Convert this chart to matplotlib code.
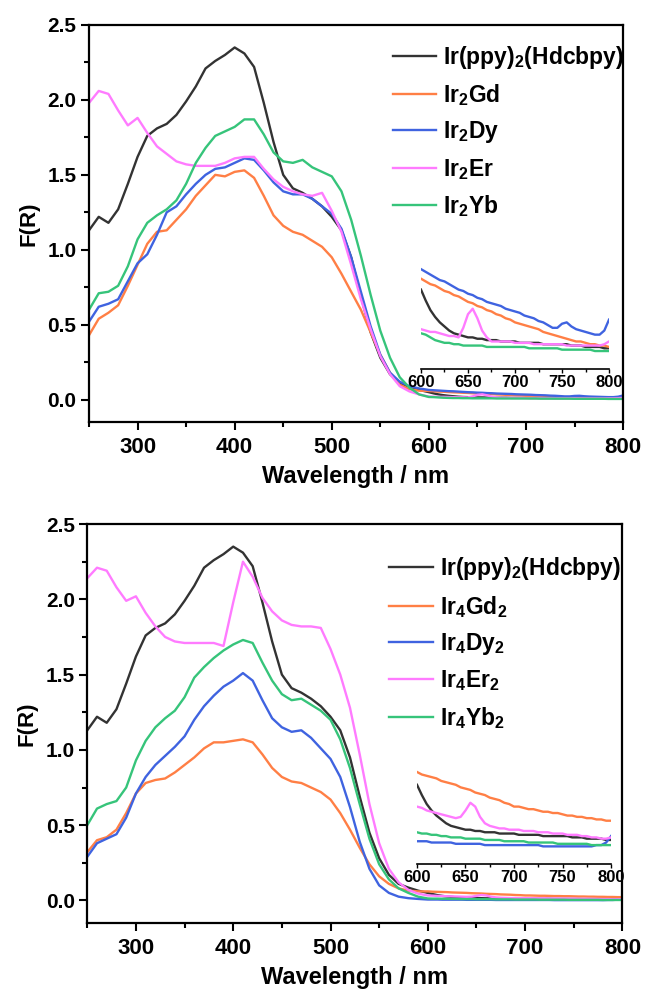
import numpy as np
import matplotlib
matplotlib.use('Agg')
import matplotlib.pyplot as plt
from matplotlib.ticker import MultipleLocator

plt.rcParams['font.family'] = ['Liberation Sans', 'DejaVu Sans']
plt.rcParams['font.weight'] = 'bold'
plt.rcParams['mathtext.fontset'] = 'custom'
plt.rcParams['mathtext.rm'] = 'Liberation Sans:bold'
plt.rcParams['mathtext.bf'] = 'Liberation Sans:bold'
plt.rcParams['mathtext.it'] = 'Liberation Sans:bold'

# wavelength grids (nm): 10 nm steps up to 590, 5 nm steps in the tail
wl_main = np.arange(250, 600, 10)
wl_tail = np.arange(600, 805, 5)

# Ir(ppy)2(Hdcbpy) - same sample in both panels
ir_main = [1.13, 1.22, 1.18, 1.27, 1.44, 1.62, 1.76, 1.81, 1.84, 1.90, 1.99, 2.09, 2.21, 2.26, 2.30,
           2.35, 2.31, 2.22, 1.98, 1.72, 1.50, 1.41, 1.38, 1.34, 1.29, 1.22, 1.13, 0.95, 0.69, 0.45,
           0.28, 0.17, 0.11, 0.085, 0.065]
ir_tail = [.050, .042, .035, .030, .026, .023, .020, .018, .017, .016, .015, .015, .014, .014, .013,
           .013, .013, .012, .012, .012, .012, .011, .011, .011, .011, .011, .010, .010, .010, .010,
           .010, .010, .009, .009, .009, .008, .008, .008, .008, .007, .007]

# top panel: Ir2Ln
gd_main = [.43, .54, .58, .63, .76, .90, 1.04, 1.12, 1.13, 1.20, 1.27, 1.36, 1.43, 1.50, 1.49,
           1.52, 1.53, 1.48, 1.36, 1.23, 1.16, 1.12, 1.10, 1.06, 1.02, 0.95, 0.84, 0.72, 0.60, 0.45,
           0.30, 0.18, 0.10, 0.07, 0.06]
gd_tail = [.058, .056, .054, .053, .051, .049, .048, .046, .045, .043, .041, .040, .038, .037, .035,
           .034, .032, .031, .029, .028, .026, .025, .024, .023, .022, .021, .019, .018, .017, .016,
           .015, .014, .013, .012, .012, .011, .010, .010, .009, .009, .008]
dy_main = [.52, .62, .64, .67, .79, .91, .97, 1.10, 1.25, 1.29, 1.37, 1.44, 1.50, 1.54, 1.55,
           1.58, 1.61, 1.60, 1.53, 1.45, 1.39, 1.37, 1.37, 1.34, 1.29, 1.24, 1.14, 0.95, 0.72, 0.49,
           0.30, 0.18, 0.12, 0.09, 0.075]
dy_tail = [.065, .063, .061, .059, .057, .056, .054, .052, .050, .049, .047, .046, .044, .043, .041,
           .040, .039, .038, .036, .035, .034, .033, .031, .030, .029, .027, .026, .024, .022, .022,
           .025, .026, .023, .021, .020, .019, .018, .017, .017, .020, .028]
er_main = [1.98, 2.06, 2.04, 1.93, 1.83, 1.88, 1.78, 1.69, 1.64, 1.59, 1.57, 1.56, 1.56, 1.56, 1.58,
           1.61, 1.62, 1.62, 1.54, 1.47, 1.42, 1.39, 1.37, 1.36, 1.38, 1.26, 1.12, 0.90, 0.67, 0.47,
           0.29, 0.17, 0.09, 0.055, 0.035]
er_tail = [.021, .020, .019, .019, .018, .017, .016, .016, .015, .022, .032, .036, .029, .020, .015,
           .012, .012, .012, .012, .012, .011, .011, .011, .011, .010, .010, .010, .010, .010, .010,
           .010, .009, .009, .009, .009, .009, .009, .009, .009, .010, .012]
yb_main = [.60, .71, .72, .76, .89, 1.07, 1.18, 1.23, 1.27, 1.33, 1.44, 1.58, 1.68, 1.76, 1.79,
           1.82, 1.87, 1.87, 1.77, 1.65, 1.59, 1.58, 1.60, 1.55, 1.52, 1.49, 1.39, 1.20, 0.96, 0.70,
           0.46, 0.28, 0.15, 0.08, 0.035]
yb_tail = [.018, .017, .015, .013, .012, .011, .011, .010, .010, .009, .009, .009, .009, .009, .008,
           .008, .008, .008, .008, .008, .008, .008, .008, .007, .007, .007, .007, .007, .007, .007,
           .006, .006, .006, .006, .006, .006, .006, .005, .005, .005, .005]

# bottom panel: Ir4Ln2
gd2_main = [.32, .40, .42, .47, .58, .71, .78, .80, .81, .85, .90, .95, 1.01, 1.05, 1.05,
            1.06, 1.07, 1.05, 0.97, 0.88, 0.82, 0.79, 0.78, 0.75, 0.72, 0.67, 0.58, 0.47, 0.35, 0.24,
            0.16, 0.11, 0.08, 0.065, 0.06]
gd2_tail = [.060, .058, .057, .056, .055, .053, .052, .051, .050, .048, .047, .046, .044, .043, .042,
            .040, .039, .038, .036, .035, .033, .033, .032, .031, .031, .030, .029, .029, .028, .028,
            .027, .026, .026, .025, .025, .024, .024, .023, .023, .022, .022]
dy2_main = [.29, .38, .41, .44, .55, .71, .82, .90, .96, 1.02, 1.09, 1.20, 1.29, 1.36, 1.42,
            1.46, 1.51, 1.46, 1.33, 1.21, 1.15, 1.12, 1.13, 1.08, 1.01, 0.94, 0.82, 0.62, 0.39, 0.21,
            0.10, 0.05, 0.025, 0.015, 0.01]
dy2_tail = [.006, .006, .006, .005, .005, .005, .005, .005, .004, .004, .004, .004, .004, .004, .003,
            .003, .003, .003, .003, .003, .003, .003, .003, .003, .003, .003, .002, .002, .002, .002,
            .002, .002, .002, .002, .002, .002, .002, .003, .003, .005, .010]
er2_main = [2.14, 2.21, 2.19, 2.08, 1.99, 2.02, 1.91, 1.82, 1.75, 1.72, 1.71, 1.71, 1.71, 1.71, 1.69,
            1.98, 2.25, 2.15, 2.01, 1.92, 1.86, 1.83, 1.82, 1.82, 1.81, 1.67, 1.50, 1.28, 0.97, 0.64,
            0.38, 0.21, 0.12, 0.07, 0.045]
er2_tail = [.033, .032, .030, .029, .028, .027, .026, .025, .024, .025, .030, .036, .033, .025, .020,
            .018, .017, .016, .016, .015, .015, .015, .014, .014, .014, .013, .013, .013, .012, .012,
            .012, .011, .011, .011, .010, .010, .009, .009, .008, .008, .009]
yb2_main = [.50, .61, .64, .66, .75, .93, 1.06, 1.15, 1.21, 1.26, 1.35, 1.48, 1.55, 1.61, 1.66,
            1.70, 1.73, 1.71, 1.58, 1.46, 1.37, 1.33, 1.34, 1.30, 1.26, 1.20, 1.07, 0.88, 0.64, 0.41,
            0.24, 0.14, 0.08, 0.05, 0.025]
yb2_tail = [.013, .012, .012, .011, .011, .010, .010, .009, .009, .009, .008, .008, .008, .008, .007,
            .007, .007, .007, .006, .006, .006, .006, .006, .005, .005, .005, .005, .005, .005, .004,
            .004, .004, .004, .004, .004, .004, .003, .003, .003, .003, .003]

colors = ['#333333', '#FF7F45', '#3F63E0', '#FF7BFF', '#36C47A']
labels_top = [r'Ir(ppy)$_2$(Hdcbpy)', r'Ir$_2$Gd', r'Ir$_2$Dy', r'Ir$_2$Er', r'Ir$_2$Yb']
labels_bot = [r'Ir(ppy)$_2$(Hdcbpy)', r'Ir$_4$Gd$_2$', r'Ir$_4$Dy$_2$', r'Ir$_4$Er$_2$', r'Ir$_4$Yb$_2$']

top_series = [(ir_main, ir_tail), (gd_main, gd_tail), (dy_main, dy_tail), (er_main, er_tail), (yb_main, yb_tail)]
bot_series = [(ir_main, ir_tail), (gd2_main, gd2_tail), (dy2_main, dy2_tail), (er2_main, er2_tail), (yb2_main, yb2_tail)]

fig = plt.figure(figsize=(6.45, 9.91), dpi=100)


def panel(rect, series, labels, leg_anchor, inset_rect, inset_ylim):
    ax = fig.add_axes(rect)
    wl = np.concatenate([wl_main, wl_tail])
    for (m, t), c, lab in zip(series, colors, labels):
        ax.plot(wl, np.concatenate([m, t]), color=c, lw=1.7, label=lab)
    ax.set_xlim(250, 800)
    ax.set_ylim(-0.15, 2.5)
    ax.xaxis.set_major_locator(MultipleLocator(100))
    ax.xaxis.set_minor_locator(MultipleLocator(50))
    ax.yaxis.set_major_locator(MultipleLocator(0.5))
    ax.yaxis.set_minor_locator(MultipleLocator(0.25))
    ax.tick_params(which='both', direction='out', width=1.5, top=False, right=False)
    ax.tick_params(which='major', length=6)
    ax.tick_params(which='minor', length=3.5)
    ax.tick_params(axis='x', labelsize=16, pad=5)
    ax.tick_params(axis='y', labelsize=15, pad=3)
    for s in ax.spines.values():
        s.set_linewidth(1.6)
    ax.set_xlabel('Wavelength / nm', fontsize=17, fontweight='bold', labelpad=5)
    ax.set_ylabel('F(R)', fontsize=16, fontweight='bold', labelpad=6)
    ax.legend(loc='upper left', bbox_to_anchor=leg_anchor, frameon=False, fontsize=16.5,
              handlelength=1.9, handletextpad=0.3, labelspacing=0.5, borderpad=0, borderaxespad=0)

    ins = fig.add_axes(inset_rect)
    ins.patch.set_alpha(0)
    for (m, t), c in zip(series, colors):
        ins.plot(wl_tail, t, color=c, lw=1.7)
    ins.set_xlim(600, 800)
    ins.set_ylim(*inset_ylim)
    for k in ['top', 'right', 'left']:
        ins.spines[k].set_visible(False)
    ins.spines['bottom'].set_linewidth(1.2)
    ins.set_yticks([])
    ins.xaxis.set_major_locator(MultipleLocator(50))
    ins.xaxis.set_minor_locator(MultipleLocator(25))
    ins.tick_params(which='both', direction='out', width=1.0, labelsize=12, pad=1)
    ins.tick_params(which='major', length=3)
    ins.tick_params(which='minor', length=2)
    return ax


panel([0.138, 0.574, 0.828, 0.4008], top_series, labels_top, (0.569, 0.953),
      [0.6527, 0.6276, 0.2915, 0.115], (-0.0082, 0.0753))
panel([0.1353, 0.0686, 0.8297, 0.4026], bot_series, labels_bot, (0.564, 0.922),
      [0.6465, 0.1282, 0.3008, 0.105], (-0.0117, 0.0694))

fig.savefig('out.png', dpi=100)
